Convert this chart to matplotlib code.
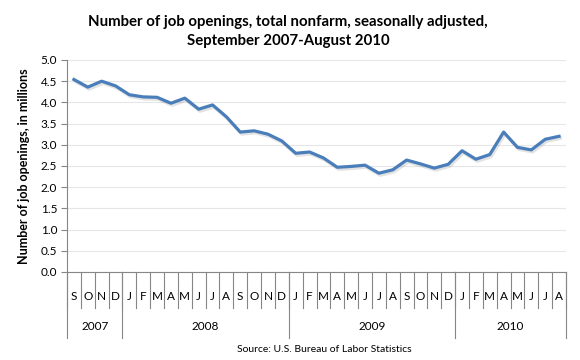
import matplotlib
matplotlib.use("Agg")
import matplotlib.pyplot as plt
import matplotlib.patheffects as pe
from matplotlib.transforms import blended_transform_factory
import numpy as np

plt.rcParams['font.family'] = ['Lato', 'DejaVu Sans']

# job openings, millions, Sep 2007 - Aug 2010
months = ['S', 'O', 'N', 'D',
          'J', 'F', 'M', 'A', 'M', 'J', 'J', 'A', 'S', 'O', 'N', 'D',
          'J', 'F', 'M', 'A', 'M', 'J', 'J', 'A', 'S', 'O', 'N', 'D',
          'J', 'F', 'M', 'A', 'M', 'J', 'J', 'A']
openings = [4.54, 4.36, 4.50, 4.39, 4.18, 4.13, 4.12, 3.98, 4.10, 3.84, 3.94, 3.66,
            3.30, 3.33, 3.25, 3.09, 2.80, 2.83, 2.69, 2.47, 2.49, 2.52, 2.33, 2.41,
            2.64, 2.55, 2.45, 2.54, 2.86, 2.66, 2.77, 3.30, 2.94, 2.88, 3.13, 3.20]
years = ['2007', '2008', '2009', '2010']
year_start = [0, 4, 16, 28]
year_end = [4, 16, 28, 36]

fig = plt.figure(figsize=(5.8, 3.6), dpi=100)
ax = fig.add_axes([67/580, 88/360, 499/580, 212/360])

x = np.arange(len(openings)) + 0.5
ax.plot(x, openings, color='#4A7EBB', lw=2.3, solid_joinstyle='round',
        path_effects=[pe.SimpleLineShadow(offset=(1, -1.5), shadow_color='gray', alpha=0.22),
                      pe.Normal()])

ax.set_xlim(0, 36)
ax.set_ylim(0, 5)
ax.set_yticks(np.arange(0, 5.01, 0.5))
ax.set_yticklabels(['%.1f' % v for v in np.arange(0, 5.01, 0.5)], fontsize=8.5)
ax.set_xticks([])
ax.grid(axis='y', color='#e6e6e6', lw=0.8)
ax.set_axisbelow(True)
for s in ['top', 'right']:
    ax.spines[s].set_visible(False)
ax.spines['left'].set_color('#868686')
ax.spines['bottom'].set_color('#868686')
ax.tick_params(axis='y', color='#868686', length=4, pad=3)

ax.set_ylabel('Number of job openings, in millions', fontsize=9.0, fontweight='bold', labelpad=8)

# category axis with month and year rows
tr = blended_transform_factory(ax.transData, ax.transAxes)
h = 212.0
for i, m in enumerate(months):
    ax.text(i + 0.5, -24/h, m, transform=tr, ha='center', va='center', fontsize=8.5)
for i in range(len(months) + 1):
    ax.plot([i, i], [0, -36/h], transform=tr, color='#868686', lw=0.8, clip_on=False)
for y, a, b in zip(years, year_start, year_end):
    ax.text((a + b) / 2, -54/h, y, transform=tr, ha='center', va='center', fontsize=8.5)
    ax.plot([a, a], [0, -66/h], transform=tr, color='#868686', lw=0.8, clip_on=False)
ax.plot([36, 36], [0, -66/h], transform=tr, color='#868686', lw=0.8, clip_on=False)

fig.text(0.497, 0.912, 'Number of job openings, total nonfarm, seasonally adjusted,\nSeptember 2007-August 2010',
         ha='center', va='center', fontsize=10.8, fontweight='bold', linespacing=1.45)
fig.text(0.56, 0.03, 'Source: U.S. Bureau of Labor Statistics', ha='center', va='center', fontsize=7.5)

fig.savefig('out.png', dpi=100)
